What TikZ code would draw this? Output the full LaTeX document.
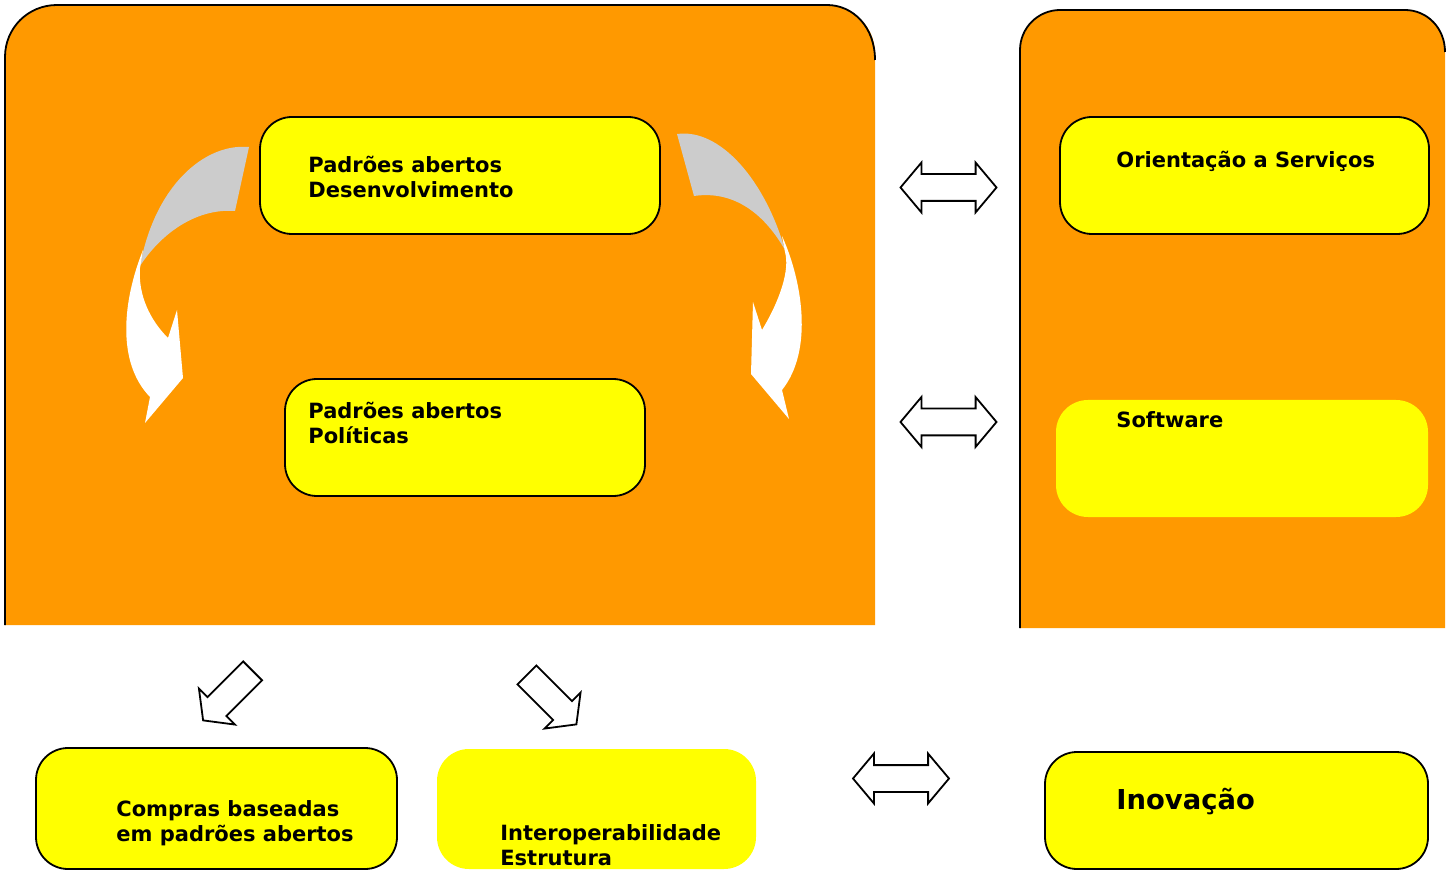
\documentclass[tikz,border=0pt]{standalone}
\usepackage{fontspec}
\setmainfont{DejaVu Sans}
\usetikzlibrary{shapes.arrows}

\definecolor{panelorange}{HTML}{FF9900}
\definecolor{boxyellow}{HTML}{FFFF00}
\definecolor{foldgray}{HTML}{CCCCCC}

\tikzset{
    ybox/.style={rectangle, rounded corners=16pt, fill=boxyellow, draw=black, line width=0.9pt, inner sep=0pt},
    yboxplain/.style={ybox, draw=none},
    boxtext/.style={font=\bfseries\fontsize{10.5}{12.6}\selectfont, align=left, anchor=west, inner sep=0pt},
    dblarrow/.style={double arrow, draw=black, fill=white, line width=0.9pt,
        minimum height=48pt, minimum width=24pt, inner xsep=0pt, inner ysep=6.25pt,
        double arrow head extend=5.75pt, double arrow tip angle=100},
    sglarrow/.style={single arrow, draw=black, fill=white, line width=0.9pt,
        minimum height=35pt, minimum width=24.5pt, inner xsep=0pt, inner ysep=6.25pt,
        single arrow head extend=6pt, single arrow tip angle=105}
}

\begin{document}
\begin{tikzpicture}[x=0.5pt, y=-0.5pt]
    \path[use as bounding box] (0,0) rectangle (1451,871);

    % left panel
    \fill[panelorange] (5,625) -- (5,57) .. controls (5,28) and (28,5) .. (57,5) -- (827,5)
        .. controls (853,5) and (875,27) .. (875,53) -- (875,625) -- cycle;
    \draw[line width=0.9pt] (5,625) -- (5,57) .. controls (5,28) and (28,5) .. (57,5) -- (827,5)
        .. controls (853,5) and (875,27) .. (875,60);

    % right panel
    \fill[panelorange] (1020,628) -- (1020,50) .. controls (1020,28) and (1038,10) .. (1060,10) -- (1405,10)
        .. controls (1427,10) and (1445,28) .. (1445,50) -- (1445,628) -- cycle;
    \draw[line width=0.9pt] (1020,628) -- (1020,50) .. controls (1020,28) and (1038,10) .. (1060,10) -- (1405,10)
        .. controls (1427,10) and (1445,28) .. (1445,52);

    % curved arrows
    \fill[foldgray] (249,147) .. controls (205,143) and (155,185) .. (140,266)
        .. controls (160,235) and (195,208) .. (235,211) -- cycle;
    \fill[white] (143,250) .. controls (123,300) and (116,362) .. (150,397) -- (145,423) -- (183,378)
        -- (177,310) -- (168,338) .. controls (150,320) and (138,295) .. (140,268) -- cycle;
    \fill[foldgray] (677,134) .. controls (720,128) and (765,180) .. (785,250)
        .. controls (765,215) and (735,190) .. (694,196) -- cycle;
    \fill[white] (782,236) .. controls (802,280) and (814,350) .. (782,390) -- (789,419) -- (751,374)
        -- (753,302) -- (762,330) .. controls (780,300) and (790,270) .. (785,252) -- cycle;

    % boxes
    \node[ybox, minimum width=200pt, minimum height=58.5pt] (desenv) at (460,175.5) {};
    \node[ybox, minimum width=180pt, minimum height=58.5pt] (politicas) at (465,437.5) {};
    \node[ybox, minimum width=184.5pt, minimum height=58.5pt] (servicos) at (1244.5,175.5) {};
    \node[yboxplain, minimum width=186pt, minimum height=58.5pt] (software) at (1242,458.5) {};
    \node[ybox, minimum width=180.5pt, minimum height=60.5pt] (compras) at (216.5,808.5) {};
    \node[yboxplain, minimum width=159.5pt, minimum height=60pt] (interop) at (596.5,809) {};
    \node[ybox, minimum width=191.5pt, minimum height=58.5pt] (inovacao) at (1236.5,810.5) {};

    \node[boxtext] (desenvtxt) at (308,177) {Padrões abertos\\Desenvolvimento};
    \node[boxtext] (politicastxt) at (308,423) {Padrões abertos\\Políticas};
    \node[boxtext] (servicostxt) at (1116,161) {Orientação a Serviços};
    \node[boxtext] (softwaretxt) at (1116,420) {Software};
    \node[boxtext] (comprastxt) at (116,823) {Compras baseadas\\em padrões abertos};
    \node[boxtext] (interoptxt) at (500,845) {Interoperabilidade\\Estrutura};
    \node[boxtext, font=\bfseries\fontsize{13.7}{16}\selectfont] (inovacaotxt) at (1116,802) {Inovação};

    % block arrows
    \node[dblarrow] (dbl1) at (948.5,187.5) {};
    \node[dblarrow] (dbl2) at (948.5,422) {};
    \node[dblarrow] (dbl3) at (901,778.5) {};
    \node[sglarrow, rotate=-135] (down1) at (231.5,692) {};
    \node[sglarrow, rotate=-45] (down2) at (548,696) {};
\end{tikzpicture}
\end{document}
